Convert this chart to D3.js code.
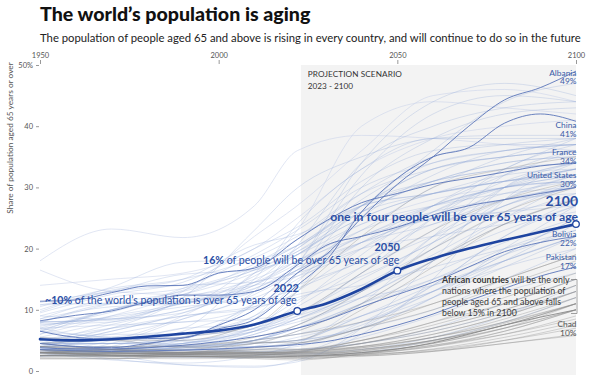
<!DOCTYPE html>
<html><head><meta charset="utf-8">
<script src="https://cdn.jsdelivr.net/npm/d3@7"></script>
<style>
body{margin:0;background:#fff;}
svg{font-family:Lato,"Noto Sans",sans-serif;}
</style>
</head><body>
<svg id="chart" width="591" height="375"></svg>
<script>
// ---------- DATA ----------
const yTicks = [0, 10, 20, 30, 40, 50];
const xTicks = [1950, 2000, 2050, 2100];
const bgYears = [1950, 1970, 1990, 2010, 2022, 2040, 2060, 2080, 2100];
const hlYears = [1950, 1960, 1970, 1980, 1990, 2000, 2010, 2022, 2030, 2040, 2050, 2060, 2070, 2080, 2090, 2100];

const world    = [5.2, 5.0, 5.2, 5.6, 6.1, 6.6, 7.6, 9.8, 11.0, 13.4, 16.4, 18.4, 20.0, 21.4, 22.7, 24.0];
const albania  = [6.5, 5.5, 5.2, 5.3, 5.4, 7.5, 10.0, 16.0, 19.0, 25.0, 30.5, 35.0, 40.0, 44.3, 46.3, 49.0];
const china    = [4.5, 4.0, 3.8, 4.5, 5.4, 6.9, 8.4, 14.0, 18.0, 26.0, 31.5, 35.0, 36.5, 40.5, 42.0, 40.8];
const france   = [11.4, 11.6, 12.8, 13.9, 14.0, 16.0, 16.8, 21.5, 24.5, 27.5, 29.0, 30.5, 31.5, 32.5, 33.5, 34.0];
const usa      = [8.2, 9.1, 9.8, 11.3, 12.4, 12.4, 13.0, 17.3, 20.5, 22.0, 23.5, 25.5, 27.0, 28.0, 29.0, 30.0];
const bolivia  = [3.8, 3.6, 3.6, 3.8, 4.2, 4.8, 5.6, 7.0, 8.3, 10.5, 12.5, 14.5, 17.0, 19.5, 21.0, 22.0];
const pakistan = [3.5, 3.3, 3.2, 3.3, 3.4, 3.6, 3.9, 4.3, 4.8, 6.0, 7.5, 9.3, 11.5, 13.5, 15.5, 17.0];
const chad     = [3.0, 2.8, 2.6, 2.5, 2.4, 2.3, 2.3, 2.4, 2.6, 3.0, 3.6, 4.6, 6.0, 7.5, 8.8, 10.0];

const hlNames = ["Albania", "China", "France", "United States", "Bolivia", "Pakistan", "Chad"];

// other countries, values at bgYears
const otherCountries = [
  [8.5,12.0,13.5,17.0,20.5,27,31,33,34],
  [10.5,13.5,15.0,18.5,22.0,29,33,35,36],
  [8.0,11.0,13.0,16.5,19.5,25,29,31,33],
  [9.5,12.5,14.5,20.0,23.5,31,36,37,37],
  [7.0,10.0,12.5,16.0,19.0,26,31,34,35],
  [10.0,13.7,17.8,18.2,20.5,26,29,31,32],
  [9.7,13.2,15.0,20.6,22.3,27,29,31,32],
  [10.8,13.0,15.8,16.5,19.0,24,27,29,30],
  [7.3,9.6,13.2,16.5,20.0,28,34,36,37],
  [6.7,10.0,13.5,19.0,23.0,30,34,36,37],
  [6.5,9.0,11.0,14.5,20.0,27,33,35,36],
  [5.5,8.0,10.0,14.0,17.5,23,30,35,38],
  [6.0,10.0,12.5,17.5,21.5,29,35,37,38],
  [4.5,7.6,10.0,13.0,16.5,21,25,26,27],
  [8.5,10.5,11.0,15.5,19.5,26,31,34,35],
  [7.8,11.0,11.5,13.5,16.5,22,26,28,29],
  [11.2,13.0,14.0,14.5,18.0,23,27,30,32],
  [7.7,8.0,11.3,14.0,19.0,25,29,32,33],
  [8.0,8.3,11.1,13.4,17.0,21,24,28,30],
  [9.0,8.5,11.1,13.0,16.5,22,25,29,31],
  [4.9,7.0,12.0,23.0,29.9,35,38,38.5,38.5],
  [2.9,3.5,5.1,11.0,17.5,34,44,47,45],
  [2.5,3.0,6.5,11.0,17.5,32,42,45,44],
  [2.5,4.5,8.5,13.0,20.5,34,40,43,44],
  [2.4,3.3,5.6,9.0,16.0,30,38,42,43],
  [3.2,3.5,4.5,8.5,14.5,25,32,36,37],
  [4.5,4.5,5.0,6.5,9.0,16,23,30,33],
  [3.0,4.0,7.0,7.5,13.0,26,36,44,47],
  [3.5,3.2,3.4,5.0,7.5,13,22,32,36],
  [4.5,6.0,8.5,12.5,16.5,27,31,33,34],
  [8.0,8.5,11.5,14.0,15.5,20,26,30,33],
  [4.2,7.0,9.0,10.5,12.0,15.5,21,27,31],
  [4.5,5.0,6.0,9.0,13.0,20,27,32,36],
  [3.0,3.5,4.5,7.0,10.5,17,25,31,34],
  [3.5,4.0,4.0,6.0,8.5,13,20,28,32],
  [3.5,3.2,4.0,6.5,9.5,16,25,33,37],
  [3.5,3.5,4.0,6.0,8.5,13,19,25,29],
  [4.0,4.0,4.5,6.5,8.0,12,18,24,28],
  [2.5,3.0,3.5,4.5,5.0,7,12,18,24],
  [3.0,3.0,3.3,4.0,4.5,7.5,13,19,25],
  [5.0,7.0,8.0,8.5,9.5,14,20,26,31],
  [4.5,4.5,4.8,4.7,5.0,7,10,15,20],
  [3.5,3.5,4.5,6.5,11.0,19,27,33,38],
  [4.0,6.5,9.5,15.0,24.0,33,38,38,38],
  [3.0,3.3,3.8,5.0,7.0,10.5,15,20,24],
  [3.8,3.3,3.0,4.5,6.5,11,18,25,31],
  [4.0,3.3,3.8,5.0,7.0,11,15,19,23],
  [3.5,3.0,3.0,4.0,5.5,8,12,17,22],
  [5.5,3.5,3.7,5.0,7.5,12,18,23,27],
  [3.5,3.8,4.0,5.0,7.0,11,16,21,25],
  [3.0,3.2,3.8,5.0,6.0,8,13,19,25],
  [4.5,4.5,5.5,7.5,11.5,17,22,27,30],
  [4.0,4.5,4.5,7.0,9.5,15,21,27,30],
  [3.8,3.5,2.5,2.5,3.0,7,14,22,28],
  [3.0,2.5,1.0,0.6,1.8,6,15,28,34],
  [3.5,2.0,1.0,0.8,1.5,7,18,30,34],
  [3.0,1.8,1.3,2.5,4.5,11,21,30,34],
  [2.5,2.5,2.2,2.2,2.5,3,5,8,12],
  [3.5,3.5,3.5,3.2,3.5,4.5,7,11,15],
  [3.0,3.0,2.8,2.8,2.8,3.5,5.5,9,14],
  [4.0,4.5,4.0,4.0,4.8,9,14,18,22],
  [5.0,6.0,6.0,6.8,8.5,12,14,18,22],
  [4.5,5.5,4.2,4.5,5.0,9,13,18,22],
  [3.0,2.8,2.8,3.0,3.5,4.5,6.5,9.5,13],
  [2.5,2.5,3.0,5.0,6.0,9,13,17,20],
  [6.5,5.5,5.0,7.0,9.0,13,22,28,32],
  [3.8,6.5,9.0,10.2,12.5,14,17,20,23],
  [7.0,5.5,5.5,11.0,13.5,18,24,26,28],
  [8.0,8.5,9.5,14.5,16.0,20,22,24,26],
  [6.5,10.0,12.0,15.0,18.0,22,27,30,31],
  [7.0,7.5,8.0,10.5,14.0,18,26,30,31],
  [9.0,11.0,11.0,17.0,20.5,27,29,31,33],
  [10.8,11.1,11.3,11.3,15.0,21,27,30,32],
  [7.5,8.8,10.5,12.0,15.5,21,25,28,30],
  [3.6,5.5,7.0,16.0,19.0,27,33,35,36],
  [5.5,5.0,4.0,3.1,3.2,5.5,9,13,16],
  [4.0,4.0,3.5,3.5,4.5,7,12,20,27],
  [3.0,3.5,3.0,3.5,4.0,8,14,22,27]
];

// small territories, drawn fainter
const smallTerritories = [
  [18.0,23.2,21.8,27.0,36.0,38.5,38,37,36],
  [16.5,13.0,12.5,14.5,18.0,24,28,30,31],
  [14.0,15.0,16.0,20.0,25.0,33,38,40,41],
  [6.0,9.0,13.0,22.0,27.0,36,45,46,44],
  [3.0,5.0,9.0,16.0,23.0,40,44,43,42]
];

// African countries, values at bgYears
const africanCountries = [
  [2.8,2.8,2.8,2.7,2.7,3.3,4.8,7,10],
  [3.0,2.9,3.0,3.0,3.1,4,6,9,13],
  [3.0,3.5,4.2,4.7,4.6,7,10,14,18],
  [3.3,3.0,2.8,2.8,2.9,3.2,4.2,6,8.5],
  [2.5,2.5,2.8,3.0,3.0,3.5,5,7.5,11],
  [3.5,3.0,2.7,2.6,3.0,4.5,7,10,14],
  [4.0,3.5,3.5,5.0,6.0,8,11,15,19],
  [3.2,4.0,4.0,5.5,7.5,13,20,26,30],
  [4.5,5.0,3.8,4.5,6.5,11,18,24,28],
  [5.5,5.0,5.0,7.5,9.5,16,23,28,31],
  [3.0,3.5,5.5,7.5,13.0,22,30,33,35],
  [2.5,2.3,2.4,2.3,2.0,2.7,4.2,6.5,10],
  [2.0,2.0,2.4,2.5,2.6,2.5,3.2,4.5,6],
  [3.0,2.9,2.7,2.8,2.5,2.6,3.6,5.5,8],
  [3.0,2.8,2.7,2.6,2.5,2.8,3.3,5,7.5],
  [3.5,2.5,2.5,2.3,2.3,2.8,4,6.5,10],
  [3.0,3.2,3.2,2.9,2.8,3,4,6,9],
  [2.5,2.7,3.0,3.4,3.4,5,7.5,11,15],
  [4.0,3.8,3.3,3.1,2.8,3.5,5,7.5,11],
  [2.5,2.5,2.8,2.9,3.1,4,6,9,13],
  [2.0,2.0,2.5,2.0,1.8,2.8,4.5,7,11],
  [3.0,3.5,3.0,3.8,3.5,4.5,7,10,14],
  [3.5,3.2,3.0,3.0,3.2,4.5,6.5,9.5,13],
  [3.0,2.6,2.6,3.0,3.4,4,5.5,8,12],
  [4.0,3.0,2.7,2.4,2.3,3,4.5,7,10],
  [2.5,2.4,2.3,2.6,3.2,5,8,12,16],
  [4.5,3.5,2.8,3.8,4.5,7,11,15,19],
  [3.0,2.5,2.3,2.6,2.9,3.8,5.5,8.5,12],
  [2.5,3.0,2.8,2.8,2.6,3.3,5,7.8,11],
  [3.0,2.9,3.0,3.2,3.0,3.6,5,7.5,11],
  [4.5,3.5,3.0,3.0,3.2,3.8,5.5,8,11],
  [4.0,3.5,3.0,4.5,5.0,10,17,24,28],
  [2.5,2.5,2.7,3.5,3.6,5,8,11,15],
  [2.2,2.1,2.0,2.1,2.2,2.6,3.5,5,7],
  [2.6,2.4,2.3,2.2,2.1,2.4,3.2,4.5,5.8]
];

// ---------- CHART ----------
const svg = d3.select("#chart");
const x = d3.scaleLinear().domain([1950, 2100]).range([40, 576]);
const y = d3.scaleLinear().domain([0, 50]).range([371, 65]);

const lineOf = (years) => d3.line()
  .x((d, i) => x(years[i]))
  .y(d => y(d))
  .curve(d3.curveMonotoneX);

// Title
svg.append("text").attr("x", 40).attr("y", 21)
  .attr("font-size", 19.6).attr("font-weight", 900).attr("fill", "#111")
  .text("The world’s population is aging");
svg.append("text").attr("x", 40).attr("y", 41.5)
  .attr("font-size", 11.3).attr("fill", "#222")
  .text("The population of people aged 65 and above is rising in every country, and will continue to do so in the future");

// projection shading
svg.append("rect")
  .attr("x", x(2023)).attr("y", y(50))
  .attr("width", x(2100) - x(2023)).attr("height", 375 - y(50))
  .attr("fill", "#f3f3f3");
svg.append("text").attr("x", x(2023) + 7).attr("y", 77)
  .attr("font-size", 8.2).attr("fill", "#333").attr("letter-spacing", 0.1)
  .text("PROJECTION SCENARIO");
svg.append("text").attr("x", x(2023) + 7).attr("y", 88.5)
  .attr("font-size", 8.2).attr("fill", "#333")
  .text("2023 - 2100");

// axes
const xAxis = svg.append("g").attr("transform", "translate(0,64)")
  .call(d3.axisTop(x).tickValues(xTicks).tickFormat(d3.format("d")).tickSize(4).tickPadding(2));
xAxis.select(".domain").remove();
xAxis.selectAll("line").attr("stroke", "#999");
xAxis.selectAll("text").attr("font-size", 7.5).attr("fill", "#555").attr("font-family", "Lato, sans-serif");

const yAxis = svg.append("g").attr("transform", "translate(39,0)")
  .call(d3.axisLeft(y).tickValues(yTicks).tickFormat(d => d === 50 ? "50%" : d).tickSize(3).tickPadding(3));
yAxis.select(".domain").remove();
yAxis.selectAll("line").attr("stroke", "#999");
yAxis.selectAll("text").attr("font-size", 7.5).attr("fill", "#555").attr("font-family", "Lato, sans-serif");

svg.append("text")
  .attr("transform", "translate(12.5,138) rotate(-90)")
  .attr("text-anchor", "middle").attr("font-size", 8.3).attr("fill", "#555")
  .text("Share of population aged 65 years or over");

// background lines
const gLines = svg.append("g").attr("fill", "none");
gLines.selectAll("path.st").data(smallTerritories).join("path")
  .attr("d", lineOf(bgYears)).attr("stroke", "#c9d3ea").attr("stroke-width", 0.7).attr("opacity", 0.8);
gLines.selectAll("path.oc").data(otherCountries).join("path").attr("class", "oc")
  .attr("d", lineOf(bgYears)).attr("stroke", "#8fa4d4").attr("stroke-width", 0.7).attr("opacity", 0.42);
gLines.selectAll("path.af").data(africanCountries).join("path").attr("class", "af")
  .attr("d", lineOf(bgYears)).attr("stroke", "#8a8a8a").attr("stroke-width", 0.7).attr("opacity", 0.5);

// highlighted countries
const hlSeries = [albania, china, france, usa, bolivia, pakistan, chad];
const hlColors = ["#5b76b9", "#5b76b9", "#5b76b9", "#5b76b9", "#5b76b9", "#5b76b9", "#888"];
gLines.selectAll("path.hl").data(hlSeries).join("path").attr("class", "hl")
  .attr("d", lineOf(hlYears)).attr("stroke", (d, i) => hlColors[i]).attr("stroke-width", 1).attr("opacity", 0.9);

// world line
gLines.append("path").datum(world).attr("d", lineOf(hlYears))
  .attr("stroke", "#1e44a0").attr("stroke-width", 2.6).attr("stroke-linecap", "round");

// country labels
const labelDy = [4.4, 7, -8, -9.5, 0.8, -6.5, 17.2];
const labelColor = ["#3b5ca8", "#3b5ca8", "#3b5ca8", "#3b5ca8", "#3b5ca8", "#3b5ca8", "#555"];
const lab = svg.append("g").attr("text-anchor", "end").attr("font-size", 8.4);
hlSeries.forEach((s, i) => {
  const v = s[s.length - 1];
  const yy = y(v) + labelDy[i];
  lab.append("text").attr("x", 576.5).attr("y", yy).attr("fill", labelColor[i]).text(hlNames[i]);
  lab.append("text").attr("x", 576.5).attr("y", yy + 8.7).attr("fill", labelColor[i]).text(Math.round(v) + "%");
});

// world points
const keyIdx = [7, 10, 15];
svg.selectAll("circle.k").data(keyIdx).join("circle")
  .attr("cx", i => x(hlYears[i])).attr("cy", i => y(world[i])).attr("r", 3.3)
  .attr("fill", "#fff").attr("stroke", "#1e44a0").attr("stroke-width", 1.3);

// annotations
const blue = "#2b4fa5";
const a1 = svg.append("text").attr("x", 45).attr("y", 304).attr("font-size", 10.6).attr("fill", blue);
a1.append("tspan").attr("font-weight", 700).text("~10%");
a1.append("tspan").text(" of the world’s population is over 65 years of age");
svg.append("text").attr("x", 299).attr("y", 292).attr("text-anchor", "end")
  .attr("font-size", 11).attr("font-weight", 700).attr("fill", blue).text("2022");

const a2 = svg.append("text").attr("x", 203).attr("y", 263.5).attr("font-size", 10.6).attr("fill", blue);
a2.append("tspan").attr("font-weight", 700).text("16%");
a2.append("tspan").text(" of people will be over 65 years of age");
svg.append("text").attr("x", 400).attr("y", 251).attr("text-anchor", "end")
  .attr("font-size", 11).attr("font-weight", 700).attr("fill", blue).text("2050");

svg.append("text").attr("x", 578).attr("y", 206).attr("text-anchor", "end")
  .attr("font-size", 14).attr("font-weight", 700).attr("fill", blue).text("2100");
svg.append("text").attr("x", 578).attr("y", 221).attr("text-anchor", "end")
  .attr("font-size", 12.2).attr("font-weight", 700).attr("fill", blue)
  .text("one in four people will be over 65 years of age");

// African note
const note = svg.append("text").attr("font-size", 8.8).attr("fill", "#3a3a3a");
const noteLines = ["African countries will be the only", "nations where the population of", "people aged 65 and above falls", "below 15% in 2100"];
noteLines.forEach((t, i) => {
  const tl = note.append("tspan").attr("x", 442).attr("y", 282.5 + i * 11.3);
  if (i === 0) {
    tl.append("tspan").attr("font-weight", 700).text("African countries");
    tl.append("tspan").text(" will be the only");
  } else tl.text(t);
});
svg.append("path")
  .attr("d", "M571,279.5 H577 V313.5 H571")
  .attr("fill", "none").attr("stroke", "#888").attr("stroke-width", 0.8);
</script>
</body></html>
